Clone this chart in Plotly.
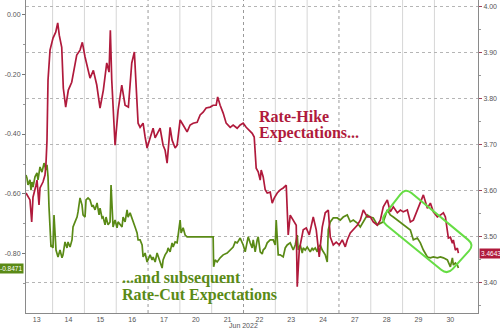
import plotly.graph_objects as go

# ---------------- data ----------------
days = ["13", "14", "15", "16", "17", "20", "21", "22", "23", "24", "27", "28", "29", "30"]
month_label = "Jun 2022"

# time in trading days since Jun 13 00:00 (weekends removed)
red_t = [0.164,0.226,0.289,0.343,0.384,0.478,0.510,0.573,0.604,0.698,
         0.761,0.793,0.824,0.856,0.919,1.013,1.098,1.161,1.211,1.287,
         1.337,1.412,1.494,1.601,1.651,1.758,1.862,1.935,2.020,2.073,
         2.177,2.281,2.388,2.491,2.595,2.702,2.774,2.815,2.859,2.963,
         3.058,3.174,3.278,3.382,3.488,3.570,3.624,3.687,3.750,3.844,
         3.907,3.970,4.064,4.159,4.222,4.316,4.379,4.473,4.536,4.599,
         4.693,4.756,4.851,4.914,5.008,5.102,5.228,5.322,5.417,5.543,
         5.637,5.731,5.826,5.952,6.046,6.141,6.188,6.266,6.361,6.455,
         6.581,6.675,6.801,6.896,6.990,7.084,7.178,7.273,7.336,7.367,
         7.399,7.462,7.525,7.556,7.619,7.682,7.745,7.839,7.902,7.965,
         8.060,8.154,8.248,8.343,8.405,8.468,8.563,8.657,8.689,8.752,
         8.877,8.971,9.066,9.192,9.286,9.380,9.475,9.569,9.664,9.727,
         9.821,9.915,10.010,10.104,10.198,10.261,10.356,10.450,10.576,10.670,
         10.765,10.891,10.985,11.079,11.205,11.300,11.394,11.520,11.614,11.709,
         11.835,11.929,12.023,12.149,12.244,12.338,12.464,12.558,12.653,12.779,
         12.873,12.967,13.093,13.188,13.282,13.345,13.408,13.439,13.502,13.565,
         13.596,13.659,13.722,13.753]
# Rate-hike expectations (right axis)
red_v = [3.595,3.586,3.580,3.532,3.586,3.612,3.623,3.569,3.606,3.619,
         3.634,3.660,3.710,3.841,3.906,3.932,3.945,3.965,3.938,3.912,
         3.823,3.782,3.819,3.836,3.858,3.895,3.906,3.923,3.891,3.873,
         3.845,3.862,3.830,3.780,3.819,3.878,3.858,3.949,3.841,3.699,
         3.775,3.830,3.786,3.782,3.878,3.902,3.819,3.747,3.738,3.747,
         3.717,3.693,3.715,3.736,3.715,3.728,3.736,3.699,3.688,3.660,
         3.738,3.710,3.693,3.699,3.754,3.743,3.728,3.743,3.747,3.749,
         3.765,3.771,3.780,3.782,3.786,3.786,3.804,3.786,3.769,3.747,
         3.738,3.743,3.736,3.743,3.747,3.738,3.732,3.725,3.717,3.688,
         3.649,3.641,3.623,3.645,3.630,3.602,3.595,3.597,3.573,3.584,
         3.595,3.602,3.606,3.612,3.504,3.547,3.536,3.525,3.391,3.471,
         3.515,3.519,3.504,3.543,3.515,3.456,3.521,3.552,3.558,3.499,
         3.482,3.488,3.482,3.493,3.478,3.493,3.508,3.515,3.525,3.536,
         3.558,3.543,3.543,3.532,3.525,3.536,3.565,3.580,3.554,3.565,
         3.552,3.558,3.554,3.558,3.532,3.536,3.558,3.573,3.591,3.562,
         3.573,3.554,3.543,3.547,3.552,3.543,3.508,3.497,3.499,3.486,
         3.493,3.471,3.475,3.4643]

green_t = [0.164,0.195,0.226,0.289,0.321,0.352,0.384,0.447,0.510,0.541,
           0.604,0.667,0.730,0.793,0.824,0.856,0.887,0.919,0.950,0.981,
           1.013,1.044,1.107,1.170,1.233,1.296,1.327,1.390,1.453,1.485,
           1.548,1.610,1.642,1.705,1.768,1.799,1.862,1.925,1.957,2.020,
           2.051,2.114,2.177,2.240,2.271,2.334,2.397,2.460,2.491,2.554,
           2.586,2.649,2.680,2.743,2.806,2.837,2.869,2.900,2.963,3.026,
           3.058,3.120,3.183,3.215,3.278,3.341,3.372,3.435,3.498,3.530,
           3.592,3.655,3.687,3.750,3.813,3.844,3.907,3.970,4.064,4.127,
           4.159,4.222,4.284,4.379,4.442,4.473,4.536,4.599,4.630,4.693,
           4.756,4.788,4.851,4.914,4.945,5.008,5.039,5.102,5.165,5.228,
           6.046,6.062,6.109,6.172,6.266,6.361,6.486,6.581,6.675,6.738,
           6.801,6.896,6.990,7.053,7.116,7.147,7.210,7.273,7.305,7.367,
           7.430,7.462,7.525,7.588,7.619,7.682,7.745,7.839,7.934,7.997,
           8.028,8.060,8.091,8.154,8.248,8.311,8.374,8.468,8.531,8.563,
           8.625,8.689,8.720,8.783,8.846,8.877,8.940,9.003,9.097,9.160,
           9.192,9.254,9.317,9.349,9.412,9.475,9.569,9.632,9.664,9.727,
           9.821,9.947,10.041,10.135,10.261,10.356,10.450,10.576,10.670,10.765,
           10.891,10.985,11.079,11.205,11.300,11.394,11.520,11.614,11.709,11.835,
           11.929,12.023,12.149,12.244,12.338,12.464,12.558,12.653,12.779,12.873,
           12.967,13.093,13.188,13.282,13.408,13.502,13.565,13.596,13.659,13.722,
           13.753]
# Rate-cut expectations (left axis)
green_v = [-0.537,-0.547,-0.570,-0.553,-0.587,-0.560,-0.577,-0.543,-0.530,-0.553,
           -0.510,-0.527,-0.497,-0.520,-0.503,-0.543,-0.643,-0.720,-0.777,-0.770,
           -0.780,-0.670,-0.787,-0.810,-0.787,-0.813,-0.803,-0.760,-0.780,-0.760,
           -0.777,-0.753,-0.710,-0.693,-0.677,-0.660,-0.613,-0.637,-0.670,-0.677,
           -0.620,-0.613,-0.620,-0.643,-0.637,-0.653,-0.630,-0.670,-0.647,-0.680,
           -0.677,-0.703,-0.677,-0.703,-0.693,-0.570,-0.653,-0.710,-0.687,-0.713,
           -0.693,-0.703,-0.710,-0.677,-0.693,-0.653,-0.677,-0.663,-0.680,-0.687,
           -0.710,-0.730,-0.753,-0.753,-0.770,-0.810,-0.797,-0.827,-0.803,-0.820,
           -0.810,-0.827,-0.797,-0.827,-0.847,-0.820,-0.803,-0.793,-0.780,-0.793,
           -0.763,-0.777,-0.760,-0.763,-0.737,-0.687,-0.730,-0.713,-0.737,-0.743,
           -0.743,-0.843,-0.820,-0.827,-0.813,-0.803,-0.797,-0.787,-0.777,-0.760,
           -0.763,-0.747,-0.770,-0.793,-0.753,-0.743,-0.763,-0.780,-0.753,-0.793,
           -0.753,-0.743,-0.793,-0.800,-0.787,-0.780,-0.763,-0.753,-0.753,-0.770,
           -0.687,-0.780,-0.803,-0.803,-0.810,-0.780,-0.770,-0.763,-0.780,-0.787,
           -0.770,-0.737,-0.787,-0.770,-0.797,-0.780,-0.787,-0.777,-0.793,-0.780,
           -0.787,-0.780,-0.793,-0.777,-0.770,-0.787,-0.803,-0.827,-0.720,-0.693,
           -0.680,-0.680,-0.687,-0.677,-0.670,-0.693,-0.687,-0.697,-0.710,-0.693,
           -0.670,-0.677,-0.680,-0.703,-0.697,-0.693,-0.653,-0.670,-0.677,-0.687,
           -0.693,-0.703,-0.713,-0.720,-0.753,-0.747,-0.763,-0.787,-0.810,-0.813,
           -0.810,-0.813,-0.810,-0.813,-0.820,-0.843,-0.813,-0.837,-0.830,-0.837,
           -0.8471]

left_ticks = [0.0, -0.2, -0.4, -0.6, -0.8]
right_ticks = [3.4, 3.5, 3.6, 3.7, 3.8, 3.9, 4.0]

# highlight box corners (t, right-axis value)
box_corners = [(12.085, 3.606), (14.256, 3.482), (13.408, 3.417), (11.30, 3.536)]

# ---------------- style ----------------
RED = "#b01a3c"
GREEN = "#5a8a16"
BOX = "#66dd44"
TICKF = dict(family="Liberation Sans, Arial, sans-serif", size=7, color="#555555")
SERIF = "Liberation Serif, Times New Roman, serif"

fig = go.Figure()
fig.add_trace(go.Scatter(x=green_t, y=green_v, mode="lines", yaxis="y",
                         line=dict(color=GREEN, width=1.7), hoverinfo="skip", showlegend=False))
fig.add_trace(go.Scatter(x=red_t, y=red_v, mode="lines", yaxis="y2",
                         line=dict(color=RED, width=1.7), hoverinfo="skip", showlegend=False))

# vertical day separators
shapes = []
for b in range(1, len(days)):
    dotted = b in (4, 7, 10)
    shapes.append(dict(type="line", xref="x", yref="paper", x0=b, x1=b, y0=0, y1=1,
                       layer="below",
                       line=dict(color="#9a9a9a" if dotted else "#d6d6d6", width=1,
                                 dash="dot" if dotted else "solid")))

# rounded highlight box
PX_X, PX_Y = 31.79, 460.0
def _pt(a, b, r):
    dx, dy = (b[0] - a[0]) * PX_X, (b[1] - a[1]) * PX_Y
    L = (dx * dx + dy * dy) ** 0.5
    f = r / L
    return (a[0] + (b[0] - a[0]) * f, a[1] + (b[1] - a[1]) * f)
n = len(box_corners)
path = ""
for i in range(n):
    c = box_corners[i]
    p = box_corners[i - 1]
    q = box_corners[(i + 1) % n]
    s = _pt(c, p, 8)
    e = _pt(c, q, 8)
    path += ("M" if i == 0 else "L") + f"{s[0]},{s[1]} Q{c[0]},{c[1]} {e[0]},{e[1]} "
path += "Z"
shapes.append(dict(type="path", xref="x", yref="y2", path=path,
                   line=dict(color=BOX, width=2), fillcolor="rgba(0,0,0,0)", layer="above"))

annotations = [
    dict(text="<b>Rate-Hike</b>", xref="paper", yref="paper", x=0.5115, y=0.6272,
         xanchor="left", yanchor="middle", showarrow=False,
         font=dict(family=SERIF, size=16, color=RED)),
    dict(text="<b>Expectations...</b>", xref="paper", yref="paper", x=0.5115, y=0.5741,
         xanchor="left", yanchor="middle", showarrow=False,
         font=dict(family=SERIF, size=16, color=RED)),
    dict(text="<b>...and subsequent</b>", xref="paper", yref="paper", x=0.208, y=0.1118,
         xanchor="left", yanchor="middle", showarrow=False,
         font=dict(family=SERIF, size=16, color=GREEN)),
    dict(text="<b>Rate-Cut Expectations</b>", xref="paper", yref="paper", x=0.208, y=0.0591,
         xanchor="left", yanchor="middle", showarrow=False,
         font=dict(family=SERIF, size=16, color=GREEN)),
    dict(text=month_label, xref="paper", yref="paper", x=0.4804, y=0, yshift=-12,
         xanchor="center", yanchor="middle", showarrow=False, font=TICKF),
    dict(text=f"{green_v[-1]:.4f}", xref="paper", yref="y", x=0, y=green_v[-1], xshift=-2,
         xanchor="right", yanchor="middle", showarrow=False, bgcolor=GREEN, borderpad=1,
         font=dict(family="Liberation Sans, Arial, sans-serif", size=6.5, color="white")),
    dict(text=f"{red_v[-1]:.4f}", xref="paper", yref="y2", x=1, y=red_v[-1], xshift=1,
         xanchor="left", yanchor="middle", showarrow=False, bgcolor=RED, borderpad=1,
         font=dict(family="Liberation Sans, Arial, sans-serif", size=6.5, color="white")),
]

fig.update_layout(
    width=500, height=329,
    margin=dict(l=26, r=22, t=0, b=16, autoexpand=False),
    paper_bgcolor="white", plot_bgcolor="white",
    showlegend=False,
    shapes=shapes,
    annotations=annotations,
    xaxis=dict(range=[0.164, 14.37], tickmode="array",
               tickvals=[i + 0.5 for i in range(len(days))], ticktext=days,
               showgrid=False, zeroline=False, showline=True, linecolor="#8a8a8a",
               ticks="", tickfont=TICKF, automargin=False),
    yaxis=dict(range=[-0.997, 0.047], tickmode="array", tickvals=left_ticks,
               ticktext=[f"{v:.2f}" for v in left_ticks],
               showgrid=False, zeroline=False, showline=True, linecolor="#8a8a8a",
               ticks="outside", ticklen=3, tickcolor="#777", tickfont=TICKF,
               minor=dict(tickmode="array", tickvals=[v - 0.1 for v in left_ticks],
                          ticks="outside", ticklen=2, tickcolor="#999", showgrid=False),
               automargin=False),
    yaxis2=dict(range=[3.334, 4.015], overlaying="y", side="right", tickmode="array",
                tickvals=right_ticks, ticktext=[f"{v:.2f}" for v in right_ticks],
                showgrid=True, gridcolor="#b5b5b5", griddash="dot", gridwidth=1,
                zeroline=False, showline=True, linecolor="#8a8a8a",
                ticks="outside", ticklen=3, tickcolor="#a0405a", tickfont=TICKF,
                minor=dict(tickmode="array", tickvals=[v - 0.05 for v in right_ticks],
                           ticks="outside", ticklen=2, tickcolor="#999", showgrid=False),
                automargin=False),
)

fig.write_html("out.html")
